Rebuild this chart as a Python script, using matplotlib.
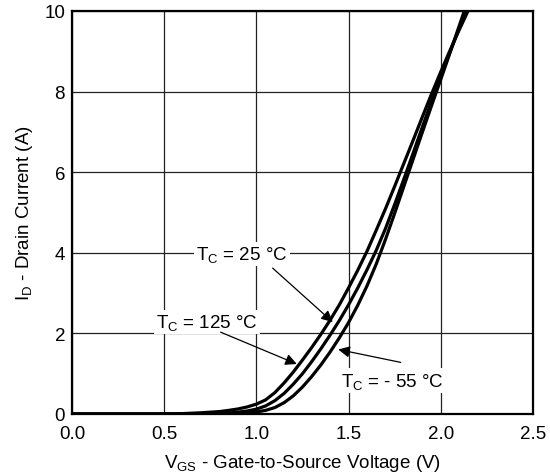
import matplotlib
matplotlib.use("Agg")
import matplotlib.pyplot as plt

plt.rcParams['font.family'] = ['Liberation Sans', 'DejaVu Sans']
plt.rcParams['mathtext.fontset'] = 'custom'
plt.rcParams['mathtext.rm'] = 'Liberation Sans'
plt.rcParams['mathtext.it'] = 'Liberation Sans'

# datos (VGS en V, ID en A)
vgs_125 = [0, 0.5, 0.6, 0.7, 0.8, 0.85, 0.9, 0.95, 1.0, 1.05, 1.1, 1.15, 1.2,
           1.25, 1.3, 1.35, 1.4, 1.45, 1.5, 1.55, 1.6, 1.65, 1.7, 1.75, 1.8,
           1.85, 1.9, 1.95, 2.0, 2.05, 2.1, 2.15]
id_125 = [0, 0, 0.01, 0.03, 0.06, 0.09, 0.125, 0.175, 0.245, 0.35, 0.53, 0.77,
          1.04, 1.34, 1.65, 1.98, 2.33, 2.71, 3.13, 3.57, 4.04, 4.56, 5.09,
          5.65, 6.22, 6.79, 7.37, 7.94, 8.49, 9.02, 9.53, 10.02]

vgs_25 = [0, 0.6, 0.7, 0.8, 0.85, 0.9, 0.95, 1.0, 1.05, 1.1, 1.15, 1.2, 1.25,
          1.3, 1.35, 1.4, 1.45, 1.5, 1.55, 1.6, 1.65, 1.7, 1.75, 1.8, 1.85,
          1.9, 1.95, 2.0, 2.05, 2.1, 2.14]
id_25 = [0, 0, 0.005, 0.015, 0.025, 0.045, 0.075, 0.12, 0.2, 0.33, 0.51, 0.74,
         1.0, 1.3, 1.62, 1.96, 2.32, 2.71, 3.13, 3.58, 4.06, 4.6, 5.2, 5.83,
         6.47, 7.12, 7.76, 8.38, 8.98, 9.57, 10.03]

vgs_m55 = [0, 0.7, 0.8, 0.85, 0.9, 0.95, 1.0, 1.05, 1.1, 1.15, 1.2, 1.25, 1.3,
           1.35, 1.4, 1.45, 1.5, 1.55, 1.6, 1.65, 1.7, 1.75, 1.8, 1.85, 1.9,
           1.95, 2.0, 2.05, 2.1, 2.13]
id_m55 = [0, 0, 0.005, 0.01, 0.017, 0.03, 0.05, 0.09, 0.16, 0.28, 0.45, 0.67,
          0.93, 1.22, 1.54, 1.89, 2.27, 2.7, 3.18, 3.72, 4.33, 4.98, 5.65, 6.32,
          6.99, 7.65, 8.3, 8.96, 9.63, 10.03]

xticks = [0.0, 0.5, 1.0, 1.5, 2.0, 2.5]
yticks = [0, 2, 4, 6, 8, 10]

fs = 13.5

fig = plt.figure(figsize=(5.5, 4.77), dpi=100)
ax = fig.add_axes([0.131, 0.130, 0.838, 0.845])

for v, i in [(vgs_125, id_125), (vgs_25, id_25), (vgs_m55, id_m55)]:
    ax.plot(v, i, color='black', lw=2.3, solid_capstyle='butt', zorder=3)

ax.set_xlim(0, 2.5)
ax.set_ylim(0, 10)
ax.set_xticks(xticks)
ax.set_xticklabels(['%.1f' % t for t in xticks])
ax.set_yticks(yticks)
ax.grid(True, color='#222222', lw=0.9)
ax.set_axisbelow(True)
ax.tick_params(length=0, labelsize=fs, pad=8)
ax.tick_params(axis='y', pad=5)
for s in ax.spines.values():
    s.set_linewidth(1.6)

ax.set_xlabel(r'V$_\mathrm{GS}$ - Gate-to-Source Voltage (V)', fontsize=fs, labelpad=7)
ax.set_ylabel(r'I$_\mathrm{D}$ - Drain Current (A)', fontsize=fs, labelpad=7)

# etiquetas con flecha
caja = dict(facecolor='white', edgecolor='none', pad=1.5)
flecha = dict(arrowstyle='-|>', color='black', lw=0.9, mutation_scale=17,
              shrinkA=0, shrinkB=0)

ax.text(0.922, 3.97, r'T$_\mathrm{C}$ = 25 °C', ha='center', va='center',
        fontsize=fs, bbox=caja, zorder=4)
ax.annotate('', xy=(1.414, 2.28), xytext=(1.088, 3.62), arrowprops=flecha, zorder=5)

ax.text(0.732, 2.28, r'T$_\mathrm{C}$ = 125 °C', ha='center', va='center',
        fontsize=fs, bbox=caja, zorder=4)
ax.annotate('', xy=(1.219, 1.24), xytext=(0.806, 2.03), arrowprops=flecha, zorder=5)

ax.text(1.735, 0.83, r'T$_\mathrm{C}$ = - 55 °C', ha='center', va='center',
        fontsize=fs, bbox=caja, zorder=4)
ax.annotate('', xy=(1.444, 1.60), xytext=(1.783, 1.28), arrowprops=flecha, zorder=5)

fig.savefig('out.png', dpi=100)
